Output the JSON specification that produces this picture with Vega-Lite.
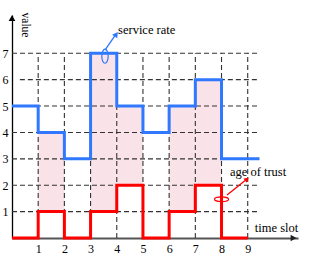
{
  "$schema": "https://vega.github.io/schema/vega-lite/v6.json",
  "width": 286,
  "height": 223,
  "autosize": "none",
  "padding": {"left": 12, "top": 15, "right": 20, "bottom": 20},
  "background": "white",
  "config": {"view": {"stroke": null}, "font": "Liberation Serif"},
  "data": {"values": [
    {"k": "shade", "x": 1, "x2": 2, "y": 1, "y2": 4},
    {"k": "shade", "x": 3, "x2": 4, "y": 1, "y2": 7},
    {"k": "shade", "x": 4, "x2": 5, "y": 2, "y2": 5},
    {"k": "shade", "x": 6, "x2": 7, "y": 1, "y2": 5},
    {"k": "shade", "x": 7, "x2": 8, "y": 2, "y2": 6},
    {"k": "hgrid", "y": 1, "x": 0, "x2": 9.45},
    {"k": "hgrid", "y": 2, "x": 0, "x2": 9.45},
    {"k": "hgrid", "y": 3, "x": 0, "x2": 9.45},
    {"k": "hgrid", "y": 4, "x": 0, "x2": 9.45},
    {"k": "hgrid", "y": 5, "x": 0, "x2": 9.45},
    {"k": "hgrid", "y": 6, "x": 0.3, "x2": 9.45},
    {"k": "hgrid", "y": 7, "x": 0, "x2": 9.45},
    {"k": "vgrid", "x": 1, "y": 0, "y2": 7},
    {"k": "vgrid", "x": 2, "y": 0, "y2": 7},
    {"k": "vgrid", "x": 3, "y": 0, "y2": 7},
    {"k": "vgrid", "x": 4, "y": 0, "y2": 7},
    {"k": "vgrid", "x": 5, "y": 0, "y2": 7},
    {"k": "vgrid", "x": 6, "y": 0, "y2": 7},
    {"k": "vgrid", "x": 7, "y": 0, "y2": 7},
    {"k": "vgrid", "x": 8, "y": 0, "y2": 7},
    {"k": "vgrid", "x": 9, "y": 0, "y2": 7},
    {"k": "blue", "x": 0, "y": 5}, {"k": "blue", "x": 1, "y": 4}, {"k": "blue", "x": 2, "y": 3},
    {"k": "blue", "x": 3, "y": 7}, {"k": "blue", "x": 4, "y": 5}, {"k": "blue", "x": 5, "y": 4},
    {"k": "blue", "x": 6, "y": 5}, {"k": "blue", "x": 7, "y": 6}, {"k": "blue", "x": 8, "y": 3},
    {"k": "blue", "x": 9.45, "y": 3},
    {"k": "red", "x": 0, "y": 0}, {"k": "red", "x": 1, "y": 1}, {"k": "red", "x": 2, "y": 0},
    {"k": "red", "x": 3, "y": 1}, {"k": "red", "x": 4, "y": 2}, {"k": "red", "x": 5, "y": 0},
    {"k": "red", "x": 6, "y": 1}, {"k": "red", "x": 7, "y": 2}, {"k": "red", "x": 8, "y": 0},
    {"k": "red", "x": 9, "y": 0},
    {"k": "label", "x": 4.05, "y": 7.88, "text": "service rate"},
    {"k": "label", "x": 8.32, "y": 2.5, "text": "age of trust"},
    {"k": "label", "x": 9.27, "y": 0.36, "text": "time slot"},
    {"k": "vlabel", "x": 0.48, "y": 8.07, "text": "value"},
    {"k": "arrow", "x": 3.55, "y": 7.12, "x2": 3.95, "y2": 7.7, "c": "blue"},
    {"k": "arrow", "x": 8.21, "y": 1.63, "x2": 8.95, "y2": 2.22, "c": "red"},
    {"k": "head", "x": 3.98, "y": 7.72, "ang": 35, "c": "blue", "s": 40},
    {"k": "head", "x": 8.97, "y": 2.23, "ang": 51, "c": "red", "s": 28},
    {"k": "head", "x": 0, "y": 8.33, "ang": 0, "c": "axisy", "s": 45},
    {"k": "head", "x": 10.75, "y": 0, "ang": 90, "c": "axisx", "s": 45},
    {"k": "ellipse", "x": 3.55, "y": 6.89, "shape": "M -0.45 0 A 0.45 1 0 1 0 0.45 0 A 0.45 1 0 1 0 -0.45 0", "c": "blue"},
    {"k": "ellipse", "x": 8.0, "y": 1.47, "shape": "M -1 0 A 1 0.33 0 1 0 1 0 A 1 0.33 0 1 0 -1 0", "c": "red"}
  ]},
  "encoding": {
    "x": {"field": "x", "type": "quantitative", "scale": {"domain": [0, 10.92], "nice": false, "zero": false},
      "axis": {"values": [1, 2, 3, 4, 5, 6, 7, 8, 9], "title": null, "grid": false, "ticks": false,
        "labelOverlap": false, "labelFlush": false, "labelBound": false,
        "domainColor": "#555555", "domainWidth": 1.8, "labelFont": "Liberation Serif", "labelFontSize": 12,
        "labelColor": "#000000", "labelPadding": 5}},
    "y": {"field": "y", "type": "quantitative", "scale": {"domain": [0, 8.45], "nice": false, "zero": false},
      "axis": {"values": [1, 2, 3, 4, 5, 6, 7], "title": null, "grid": false, "ticks": false,
        "labelOverlap": false, "labelFlush": false, "labelBound": false,
        "domainColor": "#000000", "domainWidth": 1.3, "labelFont": "Liberation Serif", "labelFontSize": 12,
        "labelColor": "#000000", "labelPadding": 4}}
  },
  "layer": [
    {
      "transform": [{"filter": "datum.k === 'shade'"}],
      "mark": {"type": "rect", "fill": "#fae2e9", "stroke": null},
      "encoding": {"x2": {"field": "x2"}, "y2": {"field": "y2"}}
    },
    {
      "transform": [{"filter": "datum.k === 'hgrid'"}],
      "mark": {"type": "rule", "color": "#333333", "strokeWidth": 1.1, "strokeDash": [5, 3]},
      "encoding": {"x2": {"field": "x2"}}
    },
    {
      "transform": [{"filter": "datum.k === 'vgrid'"}],
      "mark": {"type": "rule", "color": "#333333", "strokeWidth": 1.1, "strokeDash": [5, 3]},
      "encoding": {"y2": {"field": "y2"}}
    },
    {
      "transform": [{"filter": "datum.k === 'blue'"}],
      "mark": {"type": "line", "interpolate": "step-after", "color": "#2f78ff", "strokeWidth": 3},
      "encoding": {}
    },
    {
      "transform": [{"filter": "datum.k === 'red'"}],
      "mark": {"type": "line", "interpolate": "step-after", "color": "#ff0000", "strokeWidth": 3},
      "encoding": {}
    },
    {
      "transform": [{"filter": "datum.k === 'arrow'"}],
      "mark": {"type": "rule", "strokeWidth": 1.3},
      "encoding": {
        "x2": {"field": "x2"},
        "y2": {"field": "y2"},
        "color": {"field": "c", "type": "nominal", "scale": {"domain": ["blue", "red", "axisy", "axisx"], "range": ["#2f78ff", "#ff0000", "#000000", "#222222"]}, "legend": null}
      }
    },
    {
      "transform": [{"filter": "datum.k === 'head'"}],
      "mark": {"type": "point", "shape": "triangle-up", "filled": true, "opacity": 1},
      "encoding": {
        "angle": {"field": "ang", "type": "quantitative", "scale": null},
        "size": {"field": "s", "type": "quantitative", "scale": null},
        "color": {"field": "c", "type": "nominal", "legend": null}
      }
    },
    {
      "transform": [{"filter": "datum.k === 'ellipse'"}],
      "mark": {"type": "point", "filled": false, "strokeWidth": 1.2, "size": 200, "opacity": 1},
      "encoding": {
        "shape": {"field": "shape", "type": "nominal", "scale": null},
        "color": {"field": "c", "type": "nominal", "legend": null}
      }
    },
    {
      "transform": [{"filter": "datum.k === 'label'"}],
      "mark": {"type": "text", "font": "Liberation Serif", "fontSize": 12.5, "baseline": "middle", "align": "left", "color": "#000000"},
      "encoding": {"text": {"field": "text"}}
    },
    {
      "transform": [{"filter": "datum.k === 'vlabel'"}],
      "mark": {"type": "text", "font": "Liberation Serif", "fontSize": 11.5, "baseline": "middle", "align": "center", "angle": 90, "color": "#000000"},
      "encoding": {"text": {"field": "text"}}
    }
  ]
}
